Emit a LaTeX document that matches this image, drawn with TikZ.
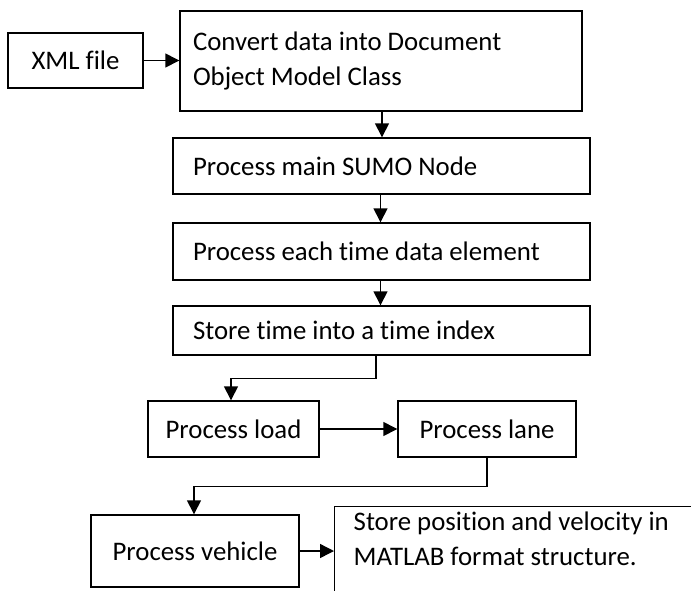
\documentclass[tikz,border=0pt]{standalone}
\usepackage{fontspec}
\setmainfont{Carlito}[Ligatures=NoCommon]
\usetikzlibrary{arrows.meta}
\begin{document}
\begin{tikzpicture}[x=1pt,y=-1pt]
\tikzstyle{every node}+=[inner sep=0pt,font=\fontsize{26.8}{35}\selectfont]
\tikzstyle{box}=[draw=black,line width=1.4pt,rectangle]
\tikzstyle{wbox}=[box,align=flush left,minimum width=417pt,text width=377pt,inner xsep=20pt]
\tikzstyle{arr}=[black,line width=1.4pt,-{Triangle[length=14pt,width=14pt]}]
\useasboundingbox (0,0) rectangle (691,590);
\clip (0,0) rectangle (691,590);
\node [box,minimum width=135pt,minimum height=55pt] (xml) at (75.5,60.5) {XML file};
\node [box,align=flush left,minimum width=402pt,minimum height=100pt,text width=376pt,inner xsep=13pt] (conv) at (381,61) {Convert data into Document\\Object Model Class\\[4pt]};
\node [wbox,minimum height=56pt] (sumo) at (381.5,166) {Process main SUMO Node};
\node [wbox,minimum height=57pt] (each) at (381.5,251.5) {Process each time data element};
\node [wbox,minimum height=49pt] (store) at (381.5,330.5) {Store time into a time index};
\node [box,minimum width=171pt,minimum height=56pt] (load) at (233.5,429) {Process load};
\node [box,minimum width=178pt,minimum height=56pt] (lane) at (487,429) {Process lane};
\node [box,minimum width=208pt,minimum height=72pt] (vehicle) at (195,551) {Process vehicle};
\node [box,anchor=north west,inner xsep=19pt,inner ysep=5pt] (matlab) at (334,506) {\parbox[t][110pt][t]{340pt}{\raggedright Store position and velocity in\\MATLAB format structure.}};
\draw [arr] (xml) -- (xml -| conv.west);
\draw [arr] ([xshift=1pt]conv.south) -- ([xshift=1pt]conv.south |- sumo.north);
\draw [arr] ([xshift=-1pt]sumo.south) -- ([xshift=-1pt]sumo.south |- each.north);
\draw [arr] ([xshift=-1pt]each.south) -- ([xshift=-1pt]each.south |- store.north);
\draw [arr] ([xshift=-5.5pt]store.south) -- ++(0,23) -| ([xshift=-2.5pt]load.north);
\draw [arr] (load) -- (lane);
\draw [arr] (lane.south) -- ++(0,29) -| ([xshift=-1pt]vehicle.north);
\draw [arr] (vehicle.east) -- (vehicle.east -| matlab.west);
\end{tikzpicture}
\end{document}
